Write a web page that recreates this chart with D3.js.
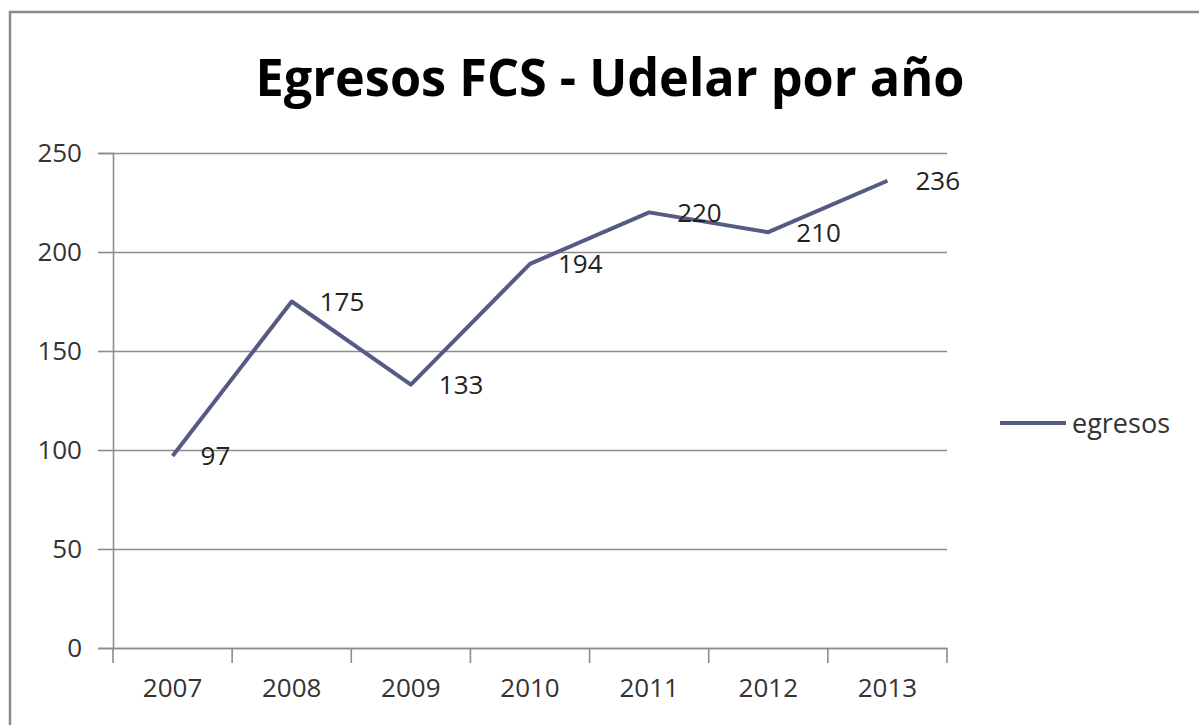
<!DOCTYPE html>
<html>
<head>
<meta charset="utf-8">
<script src="https://cdn.jsdelivr.net/npm/d3@7"></script>
<style>
  html, body { margin: 0; padding: 0; background: #fff; }
  svg { display: block; font-family: "Open Sans", "Noto Sans", sans-serif; }
</style>
</head>
<body>
<script>
const years = ["2007", "2008", "2009", "2010", "2011", "2012", "2013"];
const egresos = [97, 175, 133, 194, 220, 210, 236];
const yTicks = [0, 50, 100, 150, 200, 250];
const seriesName = "egresos";
const chartTitle = "Egresos FCS - Udelar por año";

const W = 1199, H = 725;
const plot = { left: 113, right: 947, top: 153, bottom: 648 };
const lineColor = "#565b86";

const svg = d3.select("body").append("svg")
    .attr("width", W)
    .attr("height", H);

// outer chart border (cut off on the right and bottom)
svg.append("path")
    .attr("d", `M10,${H + 5} V12 H${W + 5}`)
    .attr("fill", "none")
    .attr("stroke", "#8a8a8a")
    .attr("stroke-width", 2.5);

const x = d3.scaleBand()
    .domain(years)
    .range([plot.left, plot.right]);

const y = d3.scaleLinear()
    .domain([0, 250])
    .range([plot.bottom, plot.top]);

// gridlines
svg.append("g")
    .attr("transform", `translate(${plot.left},0)`)
    .call(d3.axisLeft(y).tickValues(yTicks).tickSize(-(plot.right - plot.left)).tickFormat(""))
    .call(g => g.select(".domain").remove())
    .call(g => g.selectAll("line").attr("stroke", "#8c8c8c").attr("stroke-width", 1.6));

// y axis
svg.append("g")
    .attr("transform", `translate(${plot.left},0)`)
    .call(d3.axisLeft(y).tickValues(yTicks).tickSize(15).tickPadding(16))
    .call(g => g.select(".domain").attr("stroke", "#8c8c8c").attr("stroke-width", 1.6))
    .call(g => g.selectAll("line").attr("stroke", "#8c8c8c").attr("stroke-width", 1.6))
    .call(g => g.selectAll("text")
        .attr("fill", "#333")
        .style("font-size", "26px")
        .style("font-family", "'Open Sans', sans-serif"));

// x axis: labels at band centres, ticks at band edges
const xAxis = svg.append("g")
    .attr("transform", `translate(0,${plot.bottom})`)
    .call(d3.axisBottom(x).tickSize(0).tickPadding(31))
    .call(g => g.select(".domain").attr("stroke", "#8c8c8c").attr("stroke-width", 1.6))
    .call(g => g.selectAll("text")
        .attr("fill", "#333")
        .style("font-size", "26px")
        .style("font-family", "'Open Sans', sans-serif"));

xAxis.selectAll(".edge")
    .data(years.map(d => x(d)).concat([x.range()[1]]))
    .enter().append("line")
    .attr("x1", d => d).attr("x2", d => d)
    .attr("y1", 0).attr("y2", 15)
    .attr("stroke", "#8c8c8c")
    .attr("stroke-width", 1.6);

// series line
const pts = years.map((d, i) => ({ year: d, v: egresos[i] }));
const line = d3.line()
    .x(d => x(d.year) + x.bandwidth() / 2)
    .y(d => y(d.v));

svg.append("path")
    .datum(pts)
    .attr("d", line)
    .attr("fill", "none")
    .attr("stroke", lineColor)
    .attr("stroke-width", 4)
    .attr("stroke-linejoin", "round");

// data labels to the right of points
svg.selectAll(".lbl")
    .data(pts)
    .enter().append("text")
    .attr("class", "lbl")
    .attr("x", d => x(d.year) + x.bandwidth() / 2 + 28)
    .attr("y", d => y(d.v))
    .attr("dy", "0.36em")
    .attr("fill", "#222")
    .style("font-size", "26px")
    .text(d => d.v);

// title
const title = svg.append("text")
    .attr("x", 610)
    .attr("y", 96)
    .attr("text-anchor", "middle")
    .attr("font-weight", "bold")
    .attr("fill", "#000")
    .style("font-size", "52px")
    .text(chartTitle);
title.attr("textLength", 709).attr("lengthAdjust", "spacingAndGlyphs");

// legend
const lg = svg.append("g").attr("transform", "translate(1000,423)");
lg.append("line")
    .attr("x1", 0).attr("x2", 66)
    .attr("stroke", lineColor)
    .attr("stroke-width", 4);
lg.append("text")
    .attr("x", 72)
    .attr("dy", "0.36em")
    .attr("fill", "#333")
    .style("font-size", "27px")
    .text(seriesName);
</script>
</body>
</html>
